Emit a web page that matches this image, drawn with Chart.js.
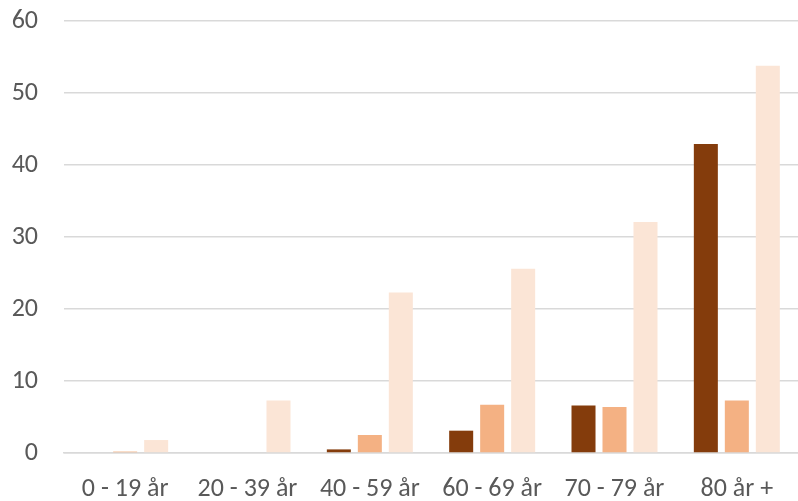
<!DOCTYPE html>
<html>
<head>
<meta charset="utf-8">
<script src="https://cdn.jsdelivr.net/npm/chart.js@4/dist/chart.umd.min.js"></script>
<style>
  html, body { margin: 0; padding: 0; background: #ffffff; }
  canvas { display: block; }
</style>
</head>
<body>
<canvas id="c" width="798" height="501"></canvas>
<script>
// Age groups on the x axis
const categories = ['0 - 19 år', '20 - 39 år', '40 - 59 år', '60 - 69 år', '70 - 79 år', '80 år +'];

// Three series per age group
const seriesA = [0, 0, 0.5, 3.1, 6.6, 42.9];
const seriesB = [0.2, 0, 2.5, 6.7, 6.4, 7.3];
const seriesC = [1.8, 7.3, 22.3, 25.6, 32.1, 53.8];

// Y axis range and step
const yMin = 0;
const yMax = 60;
const yStep = 10;

Chart.defaults.font.family = "Calibri, Carlito, Lato, sans-serif";
Chart.defaults.font.size = 26;
Chart.defaults.color = '#595959';

const mkSet = (data, color) => ({
  data: data,
  backgroundColor: color,
  borderWidth: 0,
  categoryPercentage: 0.76,
  barPercentage: 0.775
});

new Chart(document.getElementById('c'), {
  type: 'bar',
  data: {
    labels: categories,
    datasets: [
      mkSet(seriesA, '#843C0C'),
      mkSet(seriesB, '#F4B183'),
      mkSet(seriesC, '#FBE5D6')
    ]
  },
  options: {
    responsive: false,
    animation: false,
    layout: { padding: 0 },
    plugins: { legend: { display: false }, tooltip: { enabled: false } },
    scales: {
      x: {
        afterFit: s => { s.height = 48; s.paddingLeft = 0; s.paddingRight = 0; },
        grid: { display: false, drawTicks: false },
        border: { display: true, color: '#d9d9d9', width: 1.5 },
        ticks: { padding: 21, maxRotation: 0, autoSkip: false }
      },
      y: {
        min: yMin,
        max: yMax,
        afterFit: s => { s.width = 64; s.paddingTop = 21; s.paddingBottom = 0; },
        grid: { color: '#d9d9d9', lineWidth: 1.5, drawTicks: false },
        border: { display: false },
        ticks: { stepSize: yStep, padding: 26 }
      }
    }
  }
});
</script>
</body>
</html>
